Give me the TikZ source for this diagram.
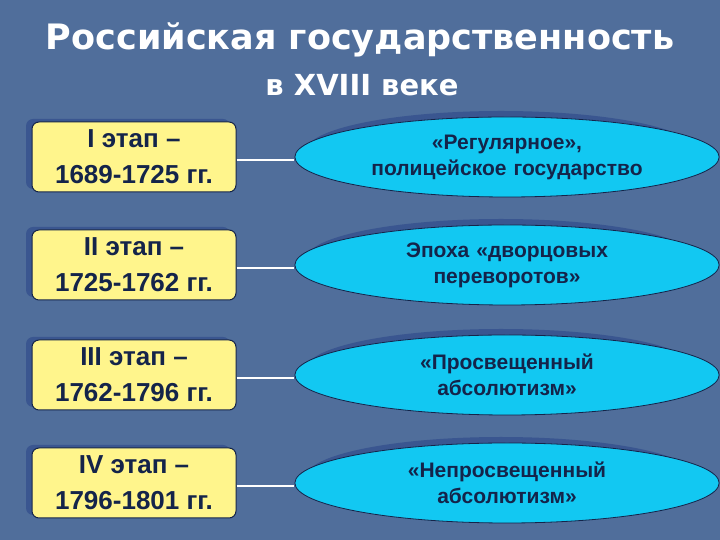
\documentclass[tikz,border=0pt]{standalone}
\usepackage{fontspec}
\setmainfont{Liberation Sans}
\newfontfamily\titlefont{DejaVu Sans}
\usetikzlibrary{shapes.geometric}
\definecolor{bg}{HTML}{506E9B}
\definecolor{boxy}{HTML}{FFF58C}
\definecolor{ell}{HTML}{12C8F2}
\definecolor{ink}{HTML}{14244A}
\definecolor{shad}{HTML}{3A5690}
\tikzset{
 stagebox/.style={draw=ink, line width=1pt, fill=boxy, rounded corners=7pt, minimum width=204pt, minimum height=70pt, align=center, font=\bfseries\fontsize{26}{36}\selectfont, text=ink, inner sep=0pt},
 ellbox/.style={draw=ink, line width=0.8pt, fill=ell, ellipse, minimum width=390pt, minimum height=80pt, text width=300pt, align=center, font=\bfseries\fontsize{21}{26}\selectfont, text=ink, inner sep=0pt},
 link/.style={draw=white, line width=2.5pt},
 ttl/.style={font=\titlefont\bfseries\fontsize{35}{40}\selectfont, text=white}
}
\begin{document}
\begin{tikzpicture}[x=1pt,y=1pt]
\fill[bg] (0,0) rectangle (720,540);
\useasboundingbox (0,0) rectangle (720,540);
\node[ttl] (t1) at (360,500) {Российская государственность};
\node[ttl, font=\titlefont\bfseries\fontsize{29}{34}\selectfont] (t2) at (362,455) {в XVIII веке};
\foreach \y/\a/\b/\c in {383/I этап –/1689-1725 гг./{«Регулярное»,\\полицейское государство},
 275/II этап –/1725-1762 гг./{Эпоха «дворцовых\\переворотов»},
 165/III этап –/1762-1796 гг./{«Просвещенный\\абсолютизм»},
 57/IV этап –/1796-1801 гг./{«Непросвещенный\\абсолютизм»}}{
 \fill[shad, rounded corners=7pt] (128,\y+3) ++(-102,-35) rectangle ++(204,70);
 \node[stagebox] (s\y) at (134,\y) {\a\\\b};
 \fill[shad] (501,\y+6) ellipse (195pt and 40pt);
 \node[ellbox] (e\y) at (507,\y) {\c};
 \draw[link] (s\y.east) ++(0,-3) coordinate (c\y) -- (c\y -| e\y.west);
}
\end{tikzpicture}
\end{document}
